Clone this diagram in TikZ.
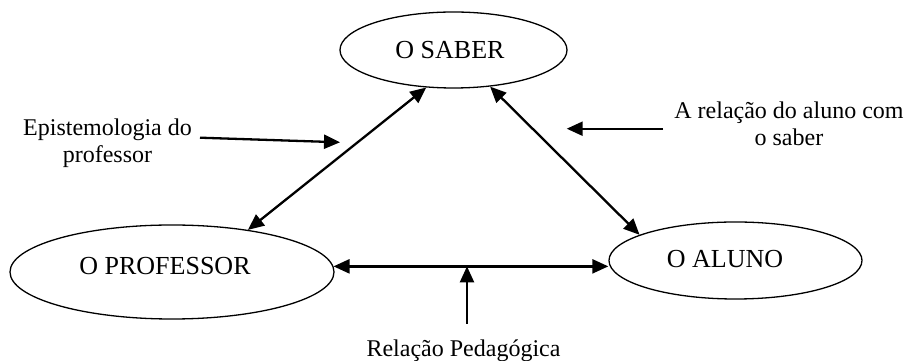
\documentclass[tikz,border=0pt]{standalone}
\usepackage{fontspec}
\setmainfont{Liberation Serif}
\usetikzlibrary{shapes.geometric,arrows.meta}
\begin{document}
\begin{tikzpicture}[x=1pt,y=1pt,
  oval/.style={draw, ellipse, line width=1.3pt, inner sep=0pt},
  ovaltext/.style={inner sep=0pt, font=\fontsize{26}{30}\selectfont},
  link/.style={line width=2.3pt, {Triangle[length=16pt,width=14pt]}-{Triangle[length=16pt,width=14pt]}},
  pointer/.style={line width=2.3pt, -{Triangle[length=16pt,width=14pt]}},
  lbl/.style={align=center, inner sep=0pt, font=\fontsize{24}{26.5}\selectfont}]
\useasboundingbox (0,0) rectangle (906,361);
% ellipses
\node[oval, minimum width=227pt, minimum height=76pt] (saber) at (453.5,311) {};
\node[oval, minimum width=324pt, minimum height=94pt] (prof) at (172,89) {};
\node[oval, minimum width=253pt, minimum height=77pt] (aluno) at (735.5,100.5) {};
\node[ovaltext] (sabert) at (450,311) {O SABER};
\node[ovaltext] (proft) at (165,95) {O PROFESSOR};
\node[ovaltext] (alunot) at (725,101.5) {O ALUNO};
% relations
\draw[link] (saber.234) -- (prof.29);
\draw[link] (saber.315) -- (aluno.165);
\draw[link] (prof.2.5) -- (prof.2.5 -| aluno.west);
% labels
\node[lbl] (epi) at (107.5,218) {Epistemologia do\\professor};
\node[lbl] (rel) at (789,237) {A relação do aluno com\\o saber};
\node[lbl, anchor=base] (ped) at (463.5,4) {Relação Pedagógica};
% pointers
\coordinate (epis) at (200,223.3);
\coordinate (epie) at (340,218.7);
\draw[pointer] (epis) -- (epie);
\coordinate (rels) at (663,232.3);
\coordinate (rele) at (566.7,232.3);
\draw[pointer] (rels) -- (rele);
\coordinate (peds) at (467,37);
\draw[pointer] (peds) -- (peds |- prof.2.5);
\end{tikzpicture}
\end{document}
